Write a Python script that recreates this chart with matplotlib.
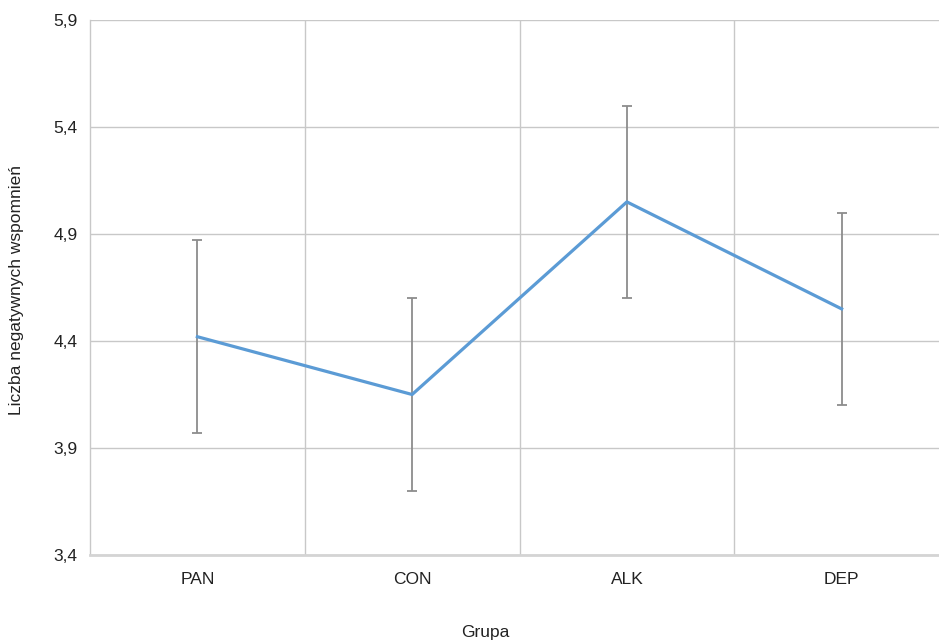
import matplotlib.pyplot as plt
import numpy as np

# Data
groups = ["PAN", "CON", "ALK", "DEP"]
means = [4.42, 4.15, 5.05, 4.55]
errors = [0.45, 0.45, 0.45, 0.45]

plt.rcParams['font.family'] = ['Liberation Sans Narrow', 'Liberation Sans', 'DejaVu Sans']

fig = plt.figure(figsize=(9.39, 6.43), dpi=100)
ax = fig.add_axes([90 / 939, 1 - 555 / 643, 859 / 939, 535 / 643])

x = np.arange(len(groups))
ax.errorbar(x, means, yerr=errors, fmt="none", ecolor="#8c8c8c",
            elinewidth=1.3, capsize=3.8, capthick=1.3, zorder=2)
ax.plot(x, means, color="#5b9bd5", linewidth=2.3, zorder=3)

ax.set_xlim(-0.5, 3.5)
ax.set_ylim(3.4, 5.9)
yt = [3.4, 3.9, 4.4, 4.9, 5.4, 5.9]
ax.set_yticks(yt)
ax.set_yticklabels([f"{v:.1f}".replace(".", ",") for v in yt])
ax.set_xticks(x)
ax.set_xticklabels(groups)
ax.set_xticks([0.5, 1.5, 2.5], minor=True)

ax.grid(axis="y", color="#c8c8c8", linewidth=1.0, zorder=0)
ax.grid(axis="x", which="minor", color="#c8c8c8", linewidth=1.0, zorder=0)
ax.tick_params(which="both", length=0)
ax.tick_params(axis="y", labelsize=12.5, pad=9, colors="#222222")
ax.tick_params(axis="x", labelsize=12.5, pad=12, colors="#222222")

for s in ["top", "right"]:
    ax.spines[s].set_visible(False)
ax.spines["left"].set_color("#c8c8c8")
ax.spines["left"].set_linewidth(1.0)
ax.spines["bottom"].set_color("#d4d4d4")
ax.spines["bottom"].set_linewidth(2.0)

fig.text(485 / 939, 1 - 633 / 643, "Grupa", ha="center", va="center",
         fontsize=12.5, color="#222222")
fig.text(17 / 939, 1 - 290 / 643, "Liczba negatywnych wspomnień", rotation=90,
         ha="center", va="center", fontsize=12.5, color="#222222")

fig.savefig("out.png", dpi=100)
